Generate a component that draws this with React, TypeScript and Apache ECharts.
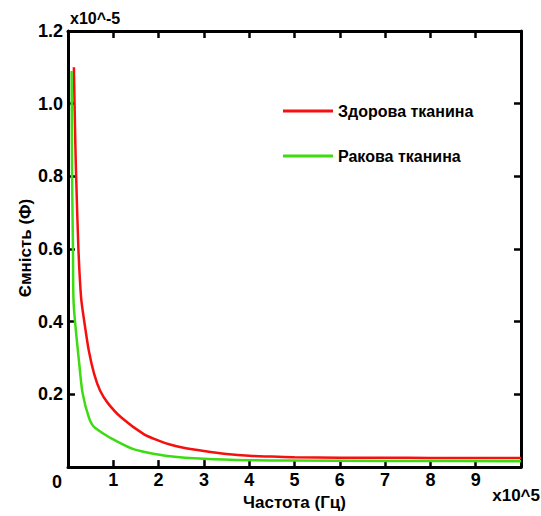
import React, { useEffect, useRef } from "react";
import * as echarts from "echarts";

// Frequency in units of 10^5 Hz, capacitance in units of 10^-5 F
const healthyFreq = [0.13, 0.16, 0.18, 0.23, 0.29, 0.36, 0.46, 0.58, 0.71, 0.88, 1.17, 1.68, 2.0, 2.25, 2.55, 3.0, 3.5, 4.0, 4.5, 5.0, 6.0, 7.0, 8.0, 9.0, 10.0];
const healthyCap = [1.1, 0.9, 0.8, 0.6, 0.465, 0.4, 0.32, 0.255, 0.21, 0.176, 0.137, 0.09, 0.073, 0.062, 0.053, 0.044, 0.036, 0.031, 0.029, 0.027, 0.026, 0.026, 0.025, 0.025, 0.025];

const cancerFreq = [0.08, 0.09, 0.11, 0.12, 0.155, 0.25, 0.32, 0.46, 0.58, 0.91, 1.0, 1.43, 1.72, 2.25, 3.0, 4.0, 5.0, 7.0, 10.0];
const cancerCap = [1.09, 0.8, 0.6, 0.465, 0.4, 0.282, 0.205, 0.137, 0.11, 0.082, 0.076, 0.05, 0.041, 0.03, 0.023, 0.019, 0.018, 0.017, 0.016];

const seriesNames = ["Здорова тканина", "Ракова тканина"];
const xTitle = "Частота (Гц)";
const yTitle = "Ємність (Ф)";
const xScaleNote = "x10^5";
const yScaleNote = "x10^-5";

const FONT = "'Liberation Sans', Arial, sans-serif";

export default function App() {
  const ref = useRef<HTMLDivElement>(null);
  useEffect(() => {
    if (!ref.current) return;
    const chart = echarts.init(ref.current, null, { renderer: "svg" });
    const lineAxis = () => ({ onZero: false, lineStyle: { color: "#000", width: 3 } });
    const tick = () => ({ show: true, inside: true, length: 7, lineStyle: { color: "#000", width: 2.5 } });
    const textBase = { fontFamily: FONT, fontWeight: "bold" as const, color: "#000" };
    const gText = (size: number) => ({ fill: "#000", fontFamily: FONT, fontWeight: "bold", fontSize: size });
    chart.setOption({
      animation: false,
      backgroundColor: "#fff",
      grid: { left: 68, right: 20, top: 31, bottom: 46, containLabel: false },
      xAxis: [
        {
          type: "value", min: 0, max: 10, interval: 1, position: "bottom",
          axisLine: lineAxis(), axisTick: tick(), splitLine: { show: false },
          axisLabel: {
            ...textBase, fontSize: 18, margin: 4,
            formatter: (v: number) => (v === 0 || v === 10 ? "" : String(v)),
          },
          name: xTitle, nameLocation: "middle", nameGap: 25,
          nameTextStyle: { ...textBase, fontSize: 17 },
        },
        {
          type: "value", min: 0, max: 10, interval: 1, position: "top",
          axisLine: lineAxis(), axisTick: tick(), splitLine: { show: false },
          axisLabel: { show: false },
        },
      ],
      yAxis: [
        {
          type: "value", min: 0, max: 1.2, interval: 0.2, position: "left",
          axisLine: lineAxis(), axisTick: tick(), splitLine: { show: false },
          axisLabel: {
            ...textBase, fontSize: 18, margin: 5,
            formatter: (v: number) => (v === 0 ? "" : v.toFixed(1)),
          },
        },
        {
          type: "value", min: 0, max: 1.2, interval: 0.2, position: "right",
          axisLine: lineAxis(), axisTick: tick(), splitLine: { show: false },
          axisLabel: { show: false },
        },
      ],
      legend: {
        orient: "vertical", left: 283, top: 103, padding: 0, itemWidth: 50, itemHeight: 3,
        itemGap: 29, icon: "rect",
        textStyle: { ...textBase, fontSize: 16 },
        data: seriesNames,
      },
      graphic: [
        { type: "text", x: 57, y: 482, style: { text: "0", ...gText(18), align: "center", verticalAlign: "middle" } },
        { type: "text", x: 540, y: 495, style: { text: xScaleNote, ...gText(17), align: "right", verticalAlign: "middle" } },
        { type: "text", x: 70, y: 18, style: { text: yScaleNote, ...gText(16), align: "left", verticalAlign: "middle" } },
        { type: "text", x: 25, y: 248, rotation: Math.PI / 2, style: { text: yTitle, ...gText(17), align: "center", verticalAlign: "middle" } },
      ],
      series: [
        {
          name: seriesNames[0], type: "line", showSymbol: false, symbol: "none", smooth: 0.25,
          itemStyle: { color: "#f51010" }, lineStyle: { color: "#f51010", width: 2.5 },
          data: healthyFreq.map((f, i) => [f, healthyCap[i]]),
        },
        {
          name: seriesNames[1], type: "line", showSymbol: false, symbol: "none", smooth: 0.25,
          itemStyle: { color: "#3ddc10" }, lineStyle: { color: "#3ddc10", width: 2.5 },
          data: cancerFreq.map((f, i) => [f, cancerCap[i]]),
        },
      ],
    });
    return () => chart.dispose();
  }, []);
  return <div ref={ref} style={{ position: "fixed", left: 0, top: 0, width: 541, height: 516, background: "#fff" }} />;
}
